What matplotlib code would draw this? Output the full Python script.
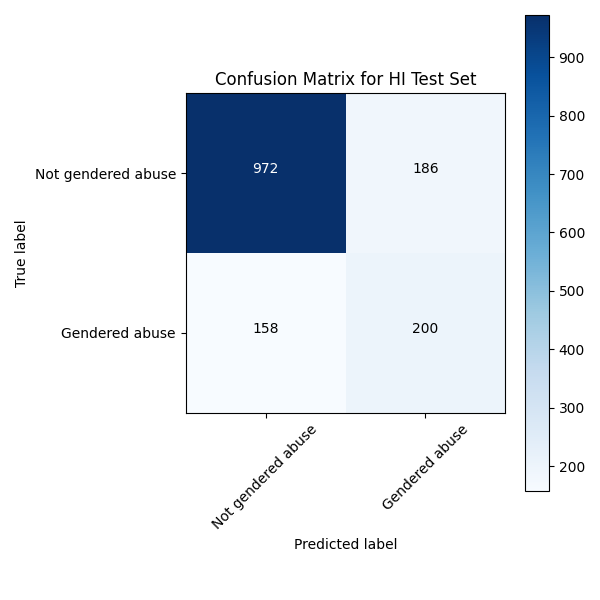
import matplotlib
matplotlib.use('Agg')
import matplotlib.pyplot as plt
import numpy as np

classes = ['Not gendered abuse', 'Gendered abuse']
cm = np.array([[972, 186],
               [158, 200]])

fig = plt.figure(figsize=(6, 6), dpi=100)
plt.imshow(cm, interpolation='nearest', cmap=plt.cm.Blues)
plt.title('Confusion Matrix for HI Test Set')
plt.colorbar()
tick_marks = np.arange(len(classes))
plt.xticks(tick_marks, classes, rotation=45)
plt.yticks(tick_marks, classes)

thresh = cm.max() / 2.
for i in range(cm.shape[0]):
    for j in range(cm.shape[1]):
        plt.text(j, i, format(cm[i, j], 'd'),
                 horizontalalignment='center',
                 color='white' if cm[i, j] > thresh else 'black')

plt.ylabel('True label')
plt.xlabel('Predicted label')
plt.tight_layout()
plt.savefig('out.png', dpi=100)
